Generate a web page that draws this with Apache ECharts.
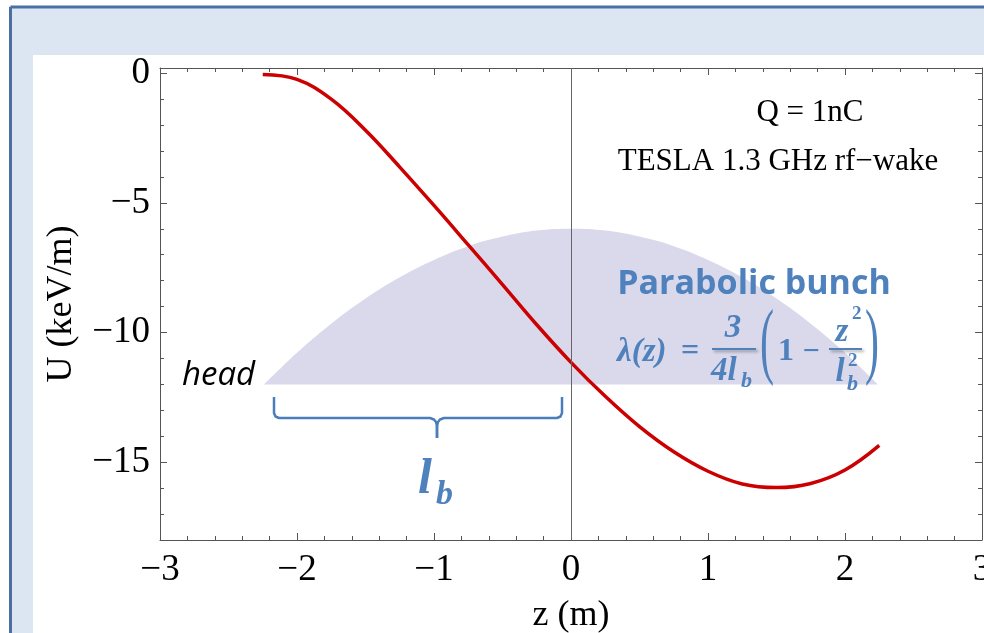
<!DOCTYPE html>
<html><head><meta charset="utf-8">
<script src="https://cdn.jsdelivr.net/npm/echarts@6/dist/echarts.min.js"></script>
<style>html,body{margin:0;padding:0;background:#fff}#c{width:984px;height:633px}</style>
</head><body><div id="c"></div>
<script>
// Wake potential U(z) (keV/m)
const zValues    = [-2.25, -2.0, -1.75, -1.5, -1.25, -1.0, -0.75, -0.5, -0.25, 0, 0.25, 0.5, 0.75, 1.0, 1.25, 1.5, 1.75, 2.0, 2.25];
const wakeValues = [-0.05, -0.24, -1.0, -2.2, -3.62, -5.1, -6.62, -8.15, -9.7, -11.15, -12.46, -13.63, -14.6, -15.35, -15.84, -15.98, -15.82, -15.3, -14.35];
// Parabolic bunch shape (drawn on the same axes)
const bunchZ      = [-2.24, -2.0, -1.75, -1.5, -1.25, -1.0, -0.75, -0.5, -0.25, 0, 0.25, 0.5, 0.75, 1.0, 1.25, 1.5, 1.75, 2.0, 2.24];
const bunchValues = [-12, -10.78, -9.66, -8.69, -7.87, -7.2, -6.67, -6.3, -6.07, -6, -6.07, -6.3, -6.67, -7.2, -7.87, -8.69, -9.66, -10.78, -12];
const bunchBase = -12;
// Tick values
const xTickLabels = [-3, -2, -1, 0, 1, 2, 3];
const yTickLabels = [-15, -10, -5, 0];
const yMinorTicks = [-17, -16, -14, -13, -12, -11, -9, -8, -7, -6, -4, -3, -2, -1];

const serif = '"Liberation Serif", "DejaVu Serif", serif';
const blue = '#4f81bd';
const frameColor = '#555555';
const fmt = v => (v < 0 ? '\u2212' + Math.abs(v) : String(v));

const chart = echarts.init(document.getElementById('c'), null, {renderer: 'canvas'});

const yBase = {type: 'value', min: -18, max: 0.2, splitLine: {show: false}};
const yLine = {show: true, onZero: false, lineStyle: {color: frameColor, width: 1}};
const noLine = {show: false, onZero: false};
const xBase = {type: 'value', min: -3, max: 3, interval: 1, splitLine: {show: false},
  axisLine: {show: true, onZero: false, lineStyle: {color: frameColor, width: 1}},
  axisTick: {show: true, inside: true, length: 7, lineStyle: {color: frameColor}},
  minorTick: {show: true, splitNumber: 5, length: 4, lineStyle: {color: frameColor}}};

const sh = {shadowColor: 'rgba(0,0,0,0.35)', shadowBlur: 3, shadowOffsetX: 2, shadowOffsetY: 2};
function T(text, x, y, font, align, extra) {
  return Object.assign({type: 'text', x: x, y: y, z: 100,
    style: Object.assign({text: text, font: font, fill: blue, align: align || 'center', verticalAlign: 'middle'}, sh)}, extra || {});
}
const fb = 'italic bold 33px ' + serif;
const bracketStyle = {fill: null, stroke: '#4a7ebb', lineWidth: 2.5, lineJoin: 'round'};

chart.setOption({
  animation: false,
  grid: {left: 160, right: 2, top: 68, bottom: 93, containLabel: false, outerBoundsMode: 'none'},
  xAxis: [
    Object.assign({}, xBase, {position: 'bottom',
      axisLabel: {show: true, margin: 12, fontFamily: serif, fontSize: 37, color: '#000', formatter: fmt, hideOverlap: false},
      name: 'z (m)', nameLocation: 'middle', nameGap: 58,
      nameTextStyle: {fontFamily: serif, fontSize: 36, color: '#000'}}),
    Object.assign({}, xBase, {position: 'top', axisLabel: {show: false}})
  ],
  yAxis: [
    Object.assign({}, yBase, {position: 'left', axisLine: yLine,
      axisTick: {show: true, inside: true, length: 7, customValues: yTickLabels, lineStyle: {color: frameColor}},
      axisLabel: {show: true, customValues: yTickLabels, margin: 10, fontFamily: serif, fontSize: 37, color: '#000', formatter: fmt},
      name: 'U (keV/m)', nameLocation: 'middle', nameGap: 80, nameRotate: 90,
      nameTextStyle: {fontFamily: serif, fontSize: 36, color: '#000'}}),
    Object.assign({}, yBase, {position: 'left', axisLine: noLine,
      axisTick: {show: true, inside: true, length: 4, customValues: yMinorTicks, lineStyle: {color: frameColor}},
      axisLabel: {show: false}}),
    Object.assign({}, yBase, {position: 'right', axisLine: yLine,
      axisTick: {show: true, inside: true, length: 7, customValues: yTickLabels, lineStyle: {color: frameColor}},
      axisLabel: {show: false}}),
    Object.assign({}, yBase, {position: 'right', axisLine: noLine,
      axisTick: {show: true, inside: true, length: 4, customValues: yMinorTicks, lineStyle: {color: frameColor}},
      axisLabel: {show: false}})
  ],
  series: [
    {
      type: 'line', name: 'bunch', xAxisIndex: 0, yAxisIndex: 0, z: 1,
      data: bunchZ.map((z, i) => [z, bunchValues[i]]),
      smooth: 0.4, showSymbol: false, silent: true,
      lineStyle: {width: 0, opacity: 0},
      areaStyle: {color: '#d9d9eb', opacity: 1, origin: bunchBase},
      markLine: {silent: true, symbol: 'none', label: {show: false},
        lineStyle: {color: '#666', width: 1, type: 'solid'},
        data: [{xAxis: 0}]}
    },
    {
      type: 'line', name: 'wake', xAxisIndex: 0, yAxisIndex: 0, z: 3,
      data: zValues.map((z, i) => [z, wakeValues[i]]),
      smooth: 0.4, showSymbol: false, silent: true,
      lineStyle: {color: '#cc0000', width: 3.5}
    }
  ],
  graphic: {elements: [
    // slide background
    {type: 'rect', z: -10, shape: {x: 9, y: 6, width: 980, height: 630}, style: {fill: '#dce6f2'}},
    {type: 'line', z: -9, shape: {x1: 10.5, y1: 7, x2: 984, y2: 7}, style: {stroke: '#4a6fa5', lineWidth: 3}},
    {type: 'line', z: -9, shape: {x1: 10.5, y1: 7, x2: 10.5, y2: 633}, style: {stroke: '#4a6fa5', lineWidth: 3}},
    {type: 'rect', z: -8, shape: {x: 33, y: 55, width: 960, height: 590}, style: {fill: '#ffffff'}},
    // annotations
    {type: 'text', x: 810, y: 113, z: 100, style: {text: 'Q = 1nC', font: '31px ' + serif, fill: '#000', align: 'center', verticalAlign: 'middle'}},
    {type: 'text', x: 778, y: 162, z: 100, style: {text: 'TESLA 1.3 GHz rf\u2212wake', font: '31px ' + serif, fill: '#000', align: 'center', verticalAlign: 'middle'}},
    {type: 'text', x: 182, y: 376, z: 100, style: {text: 'head', font: 'italic 33px "Open Sans", sans-serif', fill: '#000', align: 'left', verticalAlign: 'middle'}},
    T('Parabolic bunch', 754, 284, 'bold 34px "Open Sans", sans-serif'),
    // formula
    T('\u03bb(z)', 617, 352, fb, 'left'),
    T('=', 690, 352, 'bold 32px ' + serif),
    T('3', 733, 328, fb),
    {type: 'line', z: 100, shape: {x1: 712, y1: 349, x2: 756, y2: 349}, style: Object.assign({stroke: blue, lineWidth: 2}, sh)},
    T('4l', 711, 371, fb, 'left'),
    T('b', 741, 381, 'italic bold 22px ' + serif, 'left'),
    T('(', 0, 0, '84px ' + serif, 'center', {x: 767, y: 346, scaleX: 0.5}),
    T('1', 786, 352, 'bold 32px ' + serif),
    T('\u2212', 811, 352, 'bold 30px ' + serif),
    T('z', 842, 332, fb),
    T('2', 852, 314, 'bold 19px ' + serif, 'left'),
    {type: 'line', z: 100, shape: {x1: 829, y1: 349, x2: 862, y2: 349}, style: Object.assign({stroke: blue, lineWidth: 2}, sh)},
    T('l', 840, 372, fb),
    T('2', 848, 361, 'bold 19px ' + serif, 'left'),
    T('b', 847, 384, 'italic bold 22px ' + serif, 'left'),
    T(')', 0, 0, '84px ' + serif, 'center', {x: 872, y: 346, scaleX: 0.5}),
    // l_b bracket
    {type: 'polyline', z: 100, shape: {points: [[274, 397], [274, 413], [275.5, 416.5], [279, 418], [430, 418], [434, 419.5], [436, 422], [437, 426], [437, 438]]}, style: bracketStyle},
    {type: 'polyline', z: 100, shape: {points: [[562, 397], [562, 413], [560.5, 416.5], [557, 418], [444, 418], [440, 419.5], [438, 422], [437, 426], [437, 438]]}, style: bracketStyle},
    {type: 'text', x: 425, y: 480, z: 100, style: Object.assign({text: 'l', font: 'italic bold 50px ' + serif, fill: blue, align: 'center', verticalAlign: 'middle'}, sh)},
    {type: 'text', x: 436, y: 495, z: 100, style: Object.assign({text: 'b', font: 'italic bold 34px ' + serif, fill: blue, align: 'left', verticalAlign: 'middle'}, sh)}
  ]}
});
</script>
</body></html>
